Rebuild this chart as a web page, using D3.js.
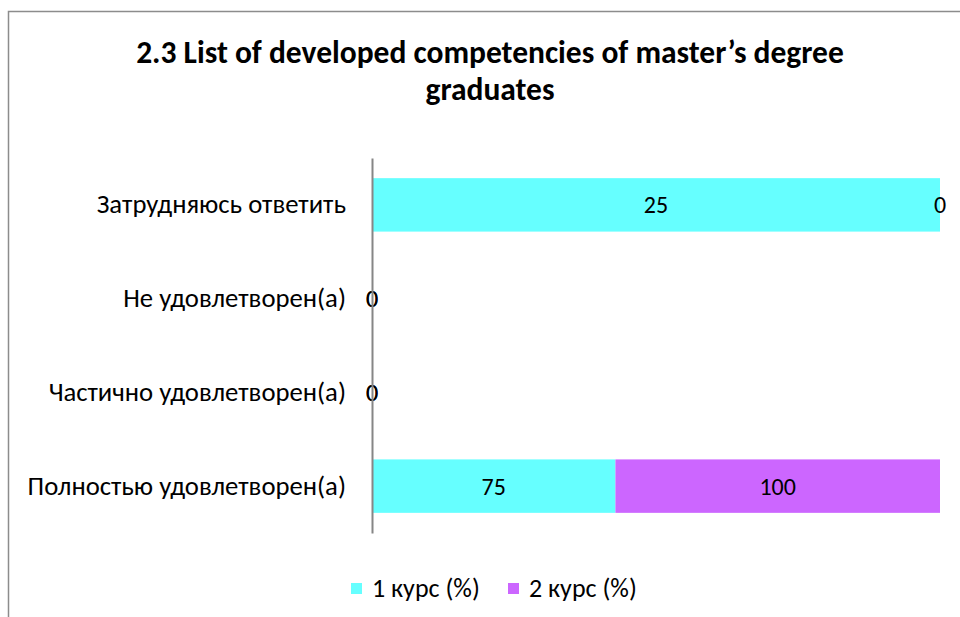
<!DOCTYPE html>
<html>
<head>
<meta charset="utf-8">
<script src="https://cdn.jsdelivr.net/npm/d3@7"></script>
<style>
  body { margin: 0; background: #fff; }
  svg { display: block; font-family: Carlito, Calibri, "Open Sans", sans-serif; }
</style>
</head>
<body>
<svg id="chart" width="960" height="617"></svg>
<script>
// Данные диаграммы
const categories = ['Затрудняюсь ответить', 'Не удовлетворен(а)', 'Частично удовлетворен(а)', 'Полностью удовлетворен(а)'];
const seriesNames = ['1 курс (%)', '2 курс (%)'];
const course1 = [25, 0, 0, 75];
const course2 = [0, 0, 0, 100];
const colors = ['#66ffff', '#cc66ff'];
const titleLines = ['2.3 List of developed competencies of master\u2019s degree', 'graduates'];

const svg = d3.select('#chart');

// рамка области диаграммы
svg.append('path')
    .attr('d', 'M8.5,617 V11.5 H960')
    .attr('fill', 'none')
    .attr('stroke', '#8c8c8c')
    .attr('stroke-width', 1.5);

svg.append('text')
    .attr('x', 490)
    .attr('y', 63)
    .attr('text-anchor', 'middle')
    .attr('font-weight', 'bold')
    .attr('font-size', 31.5)
    .selectAll('tspan')
    .data(titleLines)
    .enter()
    .append('tspan')
    .attr('x', 490)
    .attr('dy', (d, i) => i === 0 ? 0 : 37)
    .text(d => d);

const margin = {left: 372, right: 20, top: 158, bottom: 84};
const width = 940 - margin.left;
const height = 533 - margin.top;

const g = svg.append('g').attr('transform', `translate(${margin.left},${margin.top})`);

const rows = categories.map((c, i) => ({cat: c, v1: course1[i], v2: course2[i]}));
const stack = d3.stack().keys(['v1', 'v2']).offset(d3.stackOffsetExpand);
const stacked = stack(rows);

const x = d3.scaleLinear().domain([0, 1]).range([0, width]);
const y = d3.scaleBand().domain(categories).range([0, height]).paddingInner(0.43).paddingOuter(0.215);

const layers = g.selectAll('g.layer')
    .data(stacked)
    .enter()
    .append('g')
    .attr('class', 'layer')
    .attr('fill', (d, i) => colors[i]);

layers.selectAll('rect')
    .data(d => d)
    .enter()
    .append('rect')
    .attr('x', d => x(isNaN(d[0]) ? 0 : d[0]))
    .attr('y', d => y(d.data.cat))
    .attr('width', d => isNaN(d[1]) ? 0 : x(d[1]) - x(d[0]))
    .attr('height', y.bandwidth());

// подписи значений
layers.selectAll('text')
    .data((d, i) => d.map(p => ({p: p, key: d.key})))
    .enter()
    .append('text')
    .attr('x', d => {
        const a = isNaN(d.p[0]) ? 0 : d.p[0];
        const b = isNaN(d.p[1]) ? 0 : d.p[1];
        return x((a + b) / 2);
    })
    .attr('y', d => y(d.p.data.cat) + y.bandwidth() / 2)
    .attr('dy', '0.35em')
    .attr('text-anchor', 'middle')
    .attr('font-size', 24)
    .attr('fill', '#000')
    .text(d => d.p.data[d.key]);

// ось категорий
const yAxis = g.append('g').call(d3.axisLeft(y).tickSize(0).tickPadding(26));
yAxis.attr('font-family', null).attr('font-size', null);
yAxis.select('.domain').attr('stroke', '#868686').attr('stroke-width', 2);
yAxis.selectAll('text').attr('font-size', 26.7).attr('fill', '#000');

// легенда
const legend = svg.append('g').attr('transform', 'translate(351,588)');
const items = legend.selectAll('g')
    .data(seriesNames)
    .enter()
    .append('g')
    .attr('transform', (d, i) => `translate(${i * 157},0)`);
items.append('rect')
    .attr('x', 0)
    .attr('y', -5)
    .attr('width', 11)
    .attr('height', 11)
    .attr('fill', (d, i) => colors[i]);
items.append('text')
    .attr('x', 21)
    .attr('y', 0)
    .attr('dy', '0.35em')
    .attr('font-size', 26)
    .text(d => d);
</script>
</body>
</html>
